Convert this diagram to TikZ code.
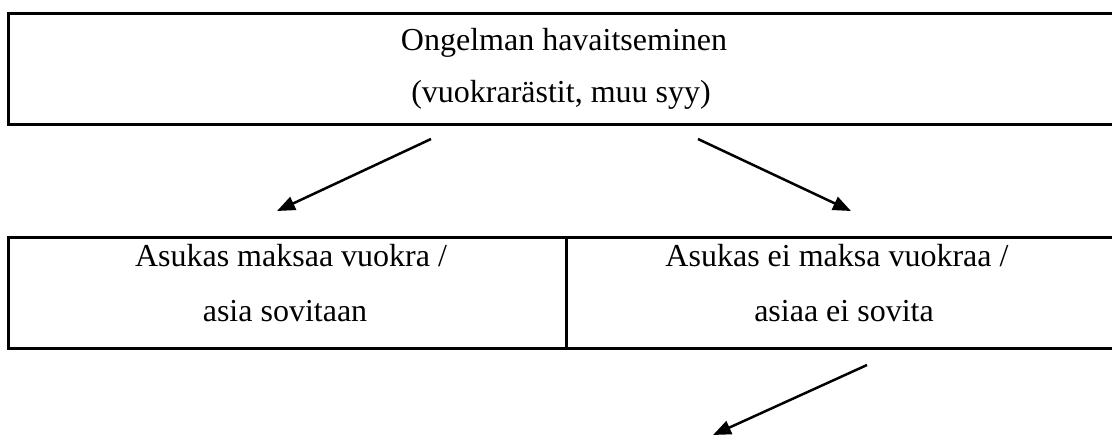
\documentclass[tikz,border=0pt]{standalone}
\usepackage{fontspec}
\setmainfont{Liberation Serif}
\usetikzlibrary{arrows.meta}
\begin{document}
\begin{tikzpicture}[x=1pt,y=-1pt,
  box/.style={draw, line width=3pt, inner sep=0pt},
  txt/.style={font=\fontsize{32}{38}\selectfont, anchor=base, inner sep=0pt},
  arr/.style={line width=2.5pt, -{Triangle[length=18pt,width=14pt]}}]
\useasboundingbox (0,0) rectangle (1112,437);
\clip (0,0) rectangle (1112,437);
\node[box, minimum width=1108pt, minimum height=111.5pt] (top) at (562,68.75) {};
\node[box, minimum width=558pt, minimum height=111pt] (left) at (287,292.5) {};
\node[box, minimum width=550pt, minimum height=111pt] (right) at (841,292.5) {};
\node[txt] (t1) at (564,50) {Ongelman havaitseminen};
\node[txt] (t2) at (561,102) {(vuokrarästit, muu syy)};
\node[txt] (l1) at (291,266) {Asukas maksaa vuokra /};
\node[txt] (l2) at (285,321) {asia sovitaan};
\node[txt] (r1) at (837,266) {Asukas ei maksa vuokraa /};
\node[txt] (r2) at (844,321) {asiaa ei sovita};
\coordinate (a1s) at (431,139);
\coordinate (a1e) at (277,211);
\coordinate (a2s) at (698,139);
\coordinate (a2e) at (851,211);
\coordinate (a3s) at (867,365);
\coordinate (a3e) at (713,435);
\draw[arr] (a1s) -- (a1e);
\draw[arr] (a2s) -- (a2e);
\draw[arr] (a3s) -- (a3e);
\end{tikzpicture}
\end{document}
